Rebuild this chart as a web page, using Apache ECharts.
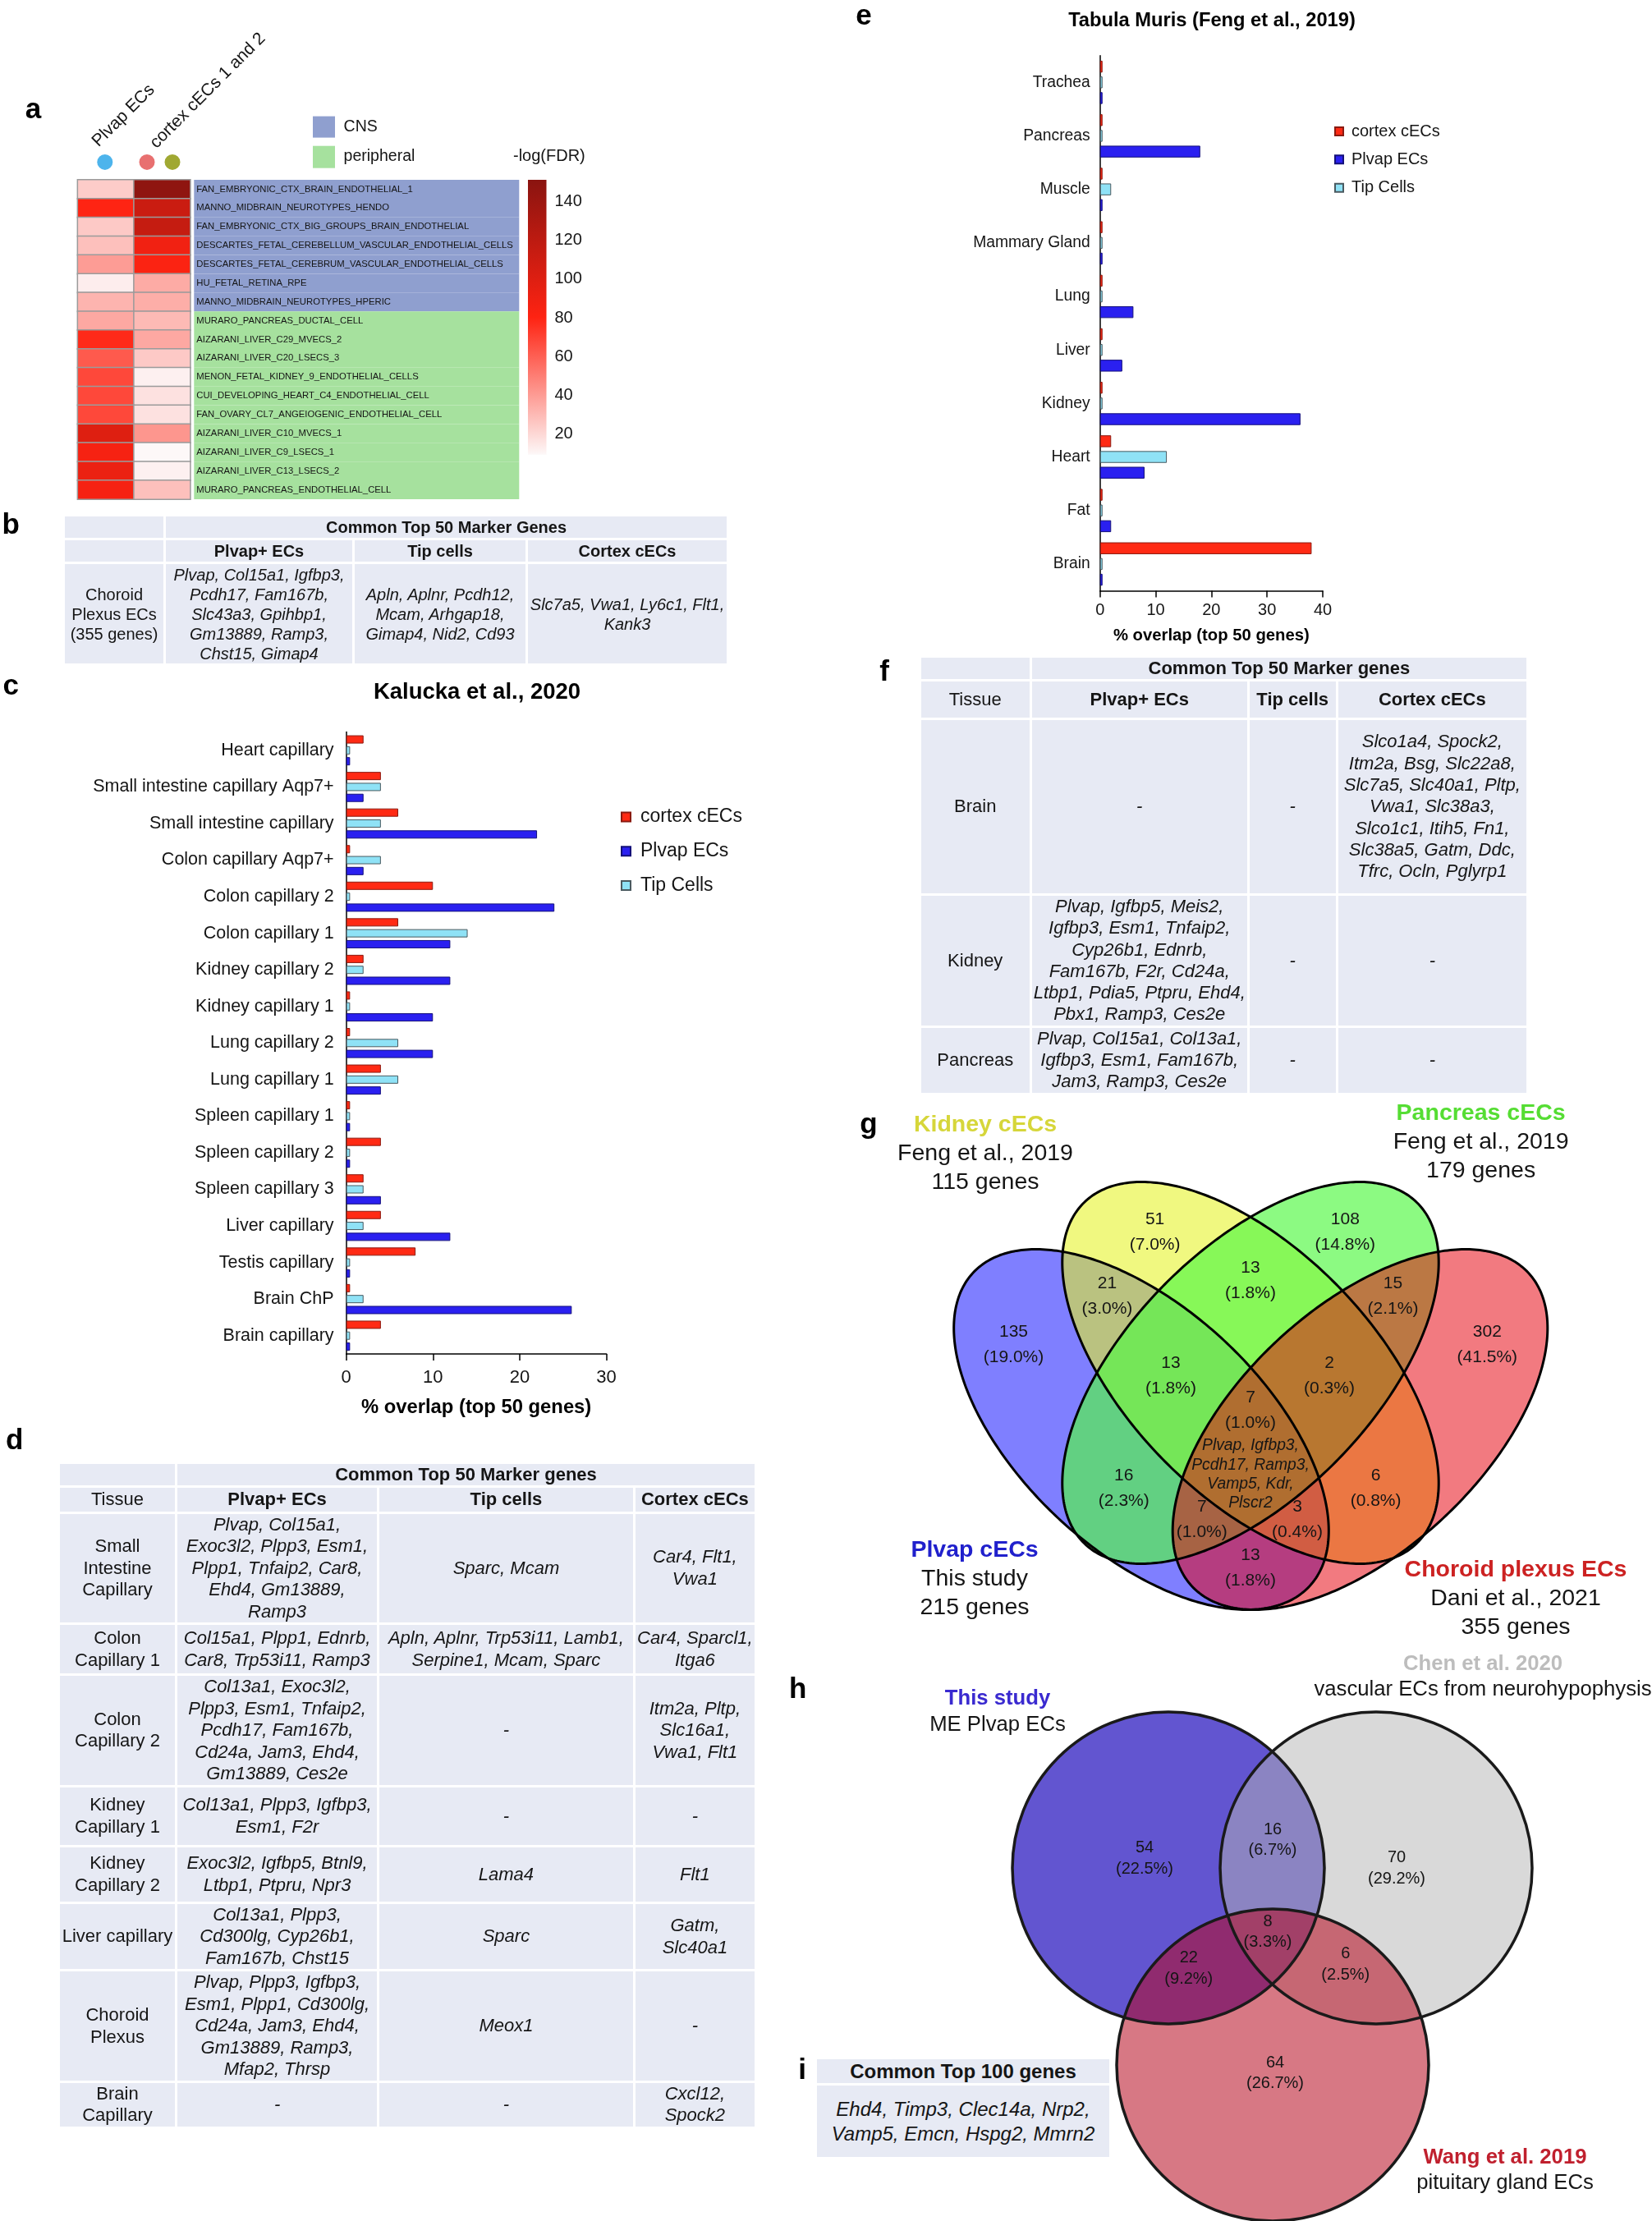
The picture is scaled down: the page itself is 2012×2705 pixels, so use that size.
<!DOCTYPE html>
<html>
<head>
<meta charset="utf-8">
<script src="https://cdn.jsdelivr.net/npm/echarts@6.0.0/dist/echarts.min.js"></script>
<style>
html,body{margin:0;padding:0;background:#fff;}
#chart{position:absolute;left:0;top:0;width:2012px;height:2705px;}
.tbl{position:absolute;border-collapse:collapse;table-layout:fixed;font-family:"Liberation Sans",Arial,Helvetica,sans-serif;color:#151515;z-index:2;}
.tbl td{background:#e7eaf4;border:3px solid #fff;text-align:center;vertical-align:middle;padding:0;white-space:nowrap;overflow:visible;}
.tbl td.b{font-weight:bold;}
.tbl td.it{font-style:italic;}
</style>
</head>
<body>
<div id="chart"></div>
<div id="tables"></div>
<script>
// ================= DATA =================
// Panel a : heatmap
const heatCols = ['Plvap ECs', 'cortex cECs 1 and 2'];
const heatRows = ['FAN_EMBRYONIC_CTX_BRAIN_ENDOTHELIAL_1','MANNO_MIDBRAIN_NEUROTYPES_HENDO','FAN_EMBRYONIC_CTX_BIG_GROUPS_BRAIN_ENDOTHELIAL','DESCARTES_FETAL_CEREBELLUM_VASCULAR_ENDOTHELIAL_CELLS','DESCARTES_FETAL_CEREBRUM_VASCULAR_ENDOTHELIAL_CELLS','HU_FETAL_RETINA_RPE','MANNO_MIDBRAIN_NEUROTYPES_HPERIC','MURARO_PANCREAS_DUCTAL_CELL','AIZARANI_LIVER_C29_MVECS_2','AIZARANI_LIVER_C20_LSECS_3','MENON_FETAL_KIDNEY_9_ENDOTHELIAL_CELLS','CUI_DEVELOPING_HEART_C4_ENDOTHELIAL_CELL','FAN_OVARY_CL7_ANGEIOGENIC_ENDOTHELIAL_CELL','AIZARANI_LIVER_C10_MVECS_1','AIZARANI_LIVER_C9_LSECS_1','AIZARANI_LIVER_C13_LSECS_2','MURARO_PANCREAS_ENDOTHELIAL_CELL'];
const heatGroups = ['CNS','CNS','CNS','CNS','CNS','CNS','CNS','peripheral','peripheral','peripheral','peripheral','peripheral','peripheral','peripheral','peripheral','peripheral','peripheral'];
const heatPlvap  = [24, 80, 25, 28, 40, 13, 32, 36, 78, 62, 68, 68, 68, 100, 85, 92, 85];
const heatCortex = [148, 112, 115, 88, 82, 35, 34, 30, 36, 25, 12, 17, 17, 42, 9.5, 12, 28];
const heatMin = 9.5, heatMax = 151;
const colorbarTicks = [20, 40, 60, 80, 100, 120, 140];

// Panel c : Kalucka et al., 2020
const seriesNames = ['cortex cECs', 'Plvap ECs', 'Tip Cells'];
const kaluckaCats = ['Heart capillary','Small intestine capillary Aqp7+','Small intestine capillary','Colon capillary Aqp7+','Colon capillary 2','Colon capillary 1','Kidney capillary 2','Kidney capillary 1','Lung capillary 2','Lung capillary 1','Spleen capillary 1','Spleen capillary 2','Spleen capillary 3','Liver capillary','Testis capillary','Brain ChP','Brain capillary'];
const kaluckaCortex = [2, 4, 6, 0.45, 10, 6, 2, 0.45, 0.45, 4, 0.45, 4, 2, 4, 8, 0.45, 4];
const kaluckaTip    = [0.45, 4, 4, 4, 0.45, 14, 2, 0.45, 6, 6, 0.45, 0.45, 2, 2, 0.45, 2, 0.45];
const kaluckaPlvap  = [0.45, 2, 22, 2, 24, 12, 12, 10, 10, 4, 0.45, 0.45, 4, 12, 0.45, 26, 0.45];

// Panel e : Tabula Muris
const tabulaCats = ['Trachea','Pancreas','Muscle','Mammary Gland','Lung','Liver','Kidney','Heart','Fat','Brain'];
const tabulaCortex = [0.45, 0.45, 0.45, 0.45, 0.45, 0.45, 0.45, 2, 0.45, 38];
const tabulaTip    = [0.45, 0.45, 2, 0.45, 0.45, 0.45, 0.45, 12, 0.45, 0.45];
const tabulaPlvap  = [0.45, 18, 0.45, 0.45, 6, 4, 36, 8, 2, 0.45];

// Panel g : 4-set Venn
const gSetTitles = ['Plvap cECs', 'Kidney cECs', 'Pancreas cECs', 'Choroid plexus ECs'];
const gSetSources = ['This study', 'Feng et al., 2019', 'Feng et al., 2019', 'Dani et al., 2021'];
const gSetSizes = ['215 genes', '115 genes', '179 genes', '355 genes'];
const gCounts   = [51, 108, 13, 21, 15, 135, 302, 13, 2, 7, 16, 6, 7, 3, 13];
const gPercents = ['7.0%','14.8%','1.8%','3.0%','2.1%','19.0%','41.5%','1.8%','0.3%','1.0%','2.3%','0.8%','1.0%','0.4%','1.8%'];
const gCoreGenes = ['Plvap, Igfbp3,', 'Pcdh17, Ramp3,', 'Vamp5, Kdr,', 'Plscr2'];

// Panel h : 3-set Venn
const hSetTitles = ['This study', 'Chen et al. 2020', 'Wang et al. 2019'];
const hSetSubs = ['ME Plvap ECs', 'vascular ECs from neurohypophysis', 'pituitary gland ECs'];
const hCounts = [54, 16, 70, 8, 22, 6, 64];
const hPercents = ['22.5%','6.7%','29.2%','3.3%','9.2%','2.5%','26.7%'];

// Tables
const bHeader = 'Common Top 50 Marker Genes';
const tblCols = ['Plvap+ ECs', 'Tip cells', 'Cortex cECs'];
const bRowLabel = ['Choroid', 'Plexus ECs', '(355 genes)'];
const bPlvap = ['Plvap, Col15a1, Igfbp3,', 'Pcdh17, Fam167b,', 'Slc43a3, Gpihbp1,', 'Gm13889, Ramp3,', 'Chst15, Gimap4'];
const bTip = ['Apln, Aplnr, Pcdh12,', 'Mcam, Arhgap18,', 'Gimap4, Nid2, Cd93'];
const bCortex = ['Slc7a5, Vwa1, Ly6c1, Flt1,', 'Kank3'];

const dHeader = 'Common Top 50 Marker genes';
const dTissue = [['Small','Intestine','Capillary'], ['Colon','Capillary 1'], ['Colon','Capillary 2'], ['Kidney','Capillary 1'], ['Kidney','Capillary 2'], ['Liver capillary'], ['Choroid','Plexus'], ['Brain','Capillary']];
const dPlvap = [
  ['Plvap, Col15a1,','Exoc3l2, Plpp3, Esm1,','Plpp1, Tnfaip2, Car8,','Ehd4, Gm13889,','Ramp3'],
  ['Col15a1, Plpp1, Ednrb,','Car8, Trp53i11, Ramp3'],
  ['Col13a1, Exoc3l2,','Plpp3, Esm1, Tnfaip2,','Pcdh17, Fam167b,','Cd24a, Jam3, Ehd4,','Gm13889, Ces2e'],
  ['Col13a1, Plpp3, Igfbp3,','Esm1, F2r'],
  ['Exoc3l2, Igfbp5, Btnl9,','Ltbp1, Ptpru, Npr3'],
  ['Col13a1, Plpp3,','Cd300lg, Cyp26b1,','Fam167b, Chst15'],
  ['Plvap, Plpp3, Igfbp3,','Esm1, Plpp1, Cd300lg,','Cd24a, Jam3, Ehd4,','Gm13889, Ramp3,','Mfap2, Thrsp'],
  ['-']];
const dTip = [['Sparc, Mcam'], ['Apln, Aplnr, Trp53i11, Lamb1,','Serpine1, Mcam, Sparc'], ['-'], ['-'], ['Lama4'], ['Sparc'], ['Meox1'], ['-']];
const dCortex = [['Car4, Flt1,','Vwa1'], ['Car4, Sparcl1,','Itga6'], ['Itm2a, Pltp,','Slc16a1,','Vwa1, Flt1'], ['-'], ['Flt1'], ['Gatm,','Slc40a1'], ['-'], ['Cxcl12,','Spock2']];

const fTissue = [['Brain'], ['Kidney'], ['Pancreas']];
const fPlvap = [['-'],
  ['Plvap, Igfbp5, Meis2,','Igfbp3, Esm1, Tnfaip2,','Cyp26b1, Ednrb,','Fam167b, F2r, Cd24a,','Ltbp1, Pdia5, Ptpru, Ehd4,','Pbx1, Ramp3, Ces2e'],
  ['Plvap, Col15a1, Col13a1,','Igfbp3, Esm1, Fam167b,','Jam3, Ramp3, Ces2e']];
const fTip = [['-'], ['-'], ['-']];
const fCortex = [['Slco1a4, Spock2,','Itm2a, Bsg, Slc22a8,','Slc7a5, Slc40a1, Pltp,','Vwa1, Slc38a3,','Slco1c1, Itih5, Fn1,','Slc38a5, Gatm, Ddc,','Tfrc, Ocln, Pglyrp1'], ['-'], ['-']];

const iHeader = 'Common Top 100 genes';
const iGenes = ['Ehd4, Timp3, Clec14a, Nrp2,', 'Vamp5, Emcn, Hspg2, Mmrn2'];

// ================= LAYOUT / STYLE =================
const FONT = '"Liberation Sans", Arial, Helvetica, sans-serif';
const RED = '#ff2a14', BLUE = '#2a20f0', CYAN = '#8fe2f6';
const heatColors = ['#fdf8f8', '#fe2312', '#8a1410'];
const heatColAnchors = [[115.8, 175.5], [186.3, 177.3]];

const gEllipses = [
  {cx: 1390,   cy: 1741, a: 280, b: 148, angle: 43,    fill: 'rgba(0,0,255,0.5)'},
  {cx: 1523,   cy: 1672, a: 290, b: 150, angle: 45.7,  fill: 'rgba(229,243,36,0.58)'},
  {cx: 1523,   cy: 1672, a: 290, b: 150, angle: 134.3, fill: 'rgba(84,248,69,0.67)'},
  {cx: 1656.5, cy: 1741, a: 280, b: 148, angle: 137,   fill: 'rgba(230,0,11,0.52)'}
];
const gLabelPos = [[1406.6,1500.8],[1638.3,1500.8],[1523,1559.5],[1348.4,1579],[1696.5,1579],[1234.5,1637.8],[1811.3,1637.8],[1426,1676],[1619,1676],[1523,1717.7],[1368.8,1812.7],[1675.6,1812.7],[1463.8,1850.5],[1580,1850.5],[1523,1909.5]];
const gTitlePos = [[1187,1887.7,'#2020cc'],[1200,1370,'#d6d63a'],[1803.6,1355.8,'#55dd33'],[1846,1911.7,'#cc2222']];

const hCircles = [
  {cx: 1423, cy: 2275, r: 190, fill: 'rgb(98,85,208)'},
  {cx: 1676, cy: 2275, r: 190, fill: 'rgba(179,179,179,0.5)'},
  {cx: 1550, cy: 2515, r: 190, fill: 'rgba(182,10,31,0.55)'}
];
const hLabelPos = [[1394,2263.7],[1550,2241],[1701,2275.3],[1544,2353],[1447.8,2397.5],[1638.8,2392.3],[1553,2525]];
const hTitlePos = [[1215,2069,'#3a2ad0'],[1806,2026.7,'#bdbdbd'],[1833,2627.6,'#c0202e']];

// ================= BUILD =================
const graphics = [];
function txt(x, y, text, o) {
  o = o || {};
  const al = o.align || 'center', va = o.valign || 'middle';
  const st = {text: text, fill: o.color || '#151515', fontSize: o.size || 21, fontWeight: o.weight || 'normal',
    fontStyle: o.style || 'normal', fontFamily: FONT, align: al, verticalAlign: va, textAlign: al, textVerticalAlign: va};
  if (o.lh) st.lineHeight = o.lh;
  graphics.push({type: 'text', x: x, y: y, rotation: o.rot || 0, silent: true, z: 20, style: st});
}
function ellipsePts(e) {
  const pts = [], r = e.angle * Math.PI / 180, c = Math.cos(r), s = Math.sin(r);
  for (let k = 0; k < 360; k++) {
    const t = 2 * Math.PI * k / 360, u = e.a * Math.cos(t), v = e.b * Math.sin(t);
    pts.push([e.cx + u * c - v * s, e.cy + u * s + v * c]);
  }
  return pts;
}

// panel letters
[['a',40.6,134],['b',13.3,640],['c',13.3,836.7],['d',17.7,1755.4],['e',1052,20],['f',1077,819.4],['g',1058,1370],['h',971.8,2058],['i',977,2522]]
  .forEach(p => txt(p[1], p[2], p[0], {size: 35, weight: 'bold', color: '#000'}));

// panel a decorations
heatCols.forEach((c, i) => txt(heatColAnchors[i][0], heatColAnchors[i][1], c, {align: 'left', size: 21, rot: Math.PI / 4}));
graphics.push({type:'circle', shape:{cx:127.8, cy:197.4, r:9.5}, style:{fill:'#4db4ec'}, silent:true});
graphics.push({type:'circle', shape:{cx:179, cy:197.4, r:9.5}, style:{fill:'#e87070'}, silent:true});
graphics.push({type:'circle', shape:{cx:210, cy:197.4, r:9.5}, style:{fill:'#a0a832'}, silent:true});
graphics.push({type:'rect', shape:{x:381, y:141.6, width:27, height:26}, style:{fill:'#8f9fcf'}, silent:true});
graphics.push({type:'rect', shape:{x:381, y:177.7, width:27, height:27}, style:{fill:'#a6e19e'}, silent:true});
txt(418.6, 154.6, 'CNS', {align:'left', size:19.5});
txt(418.6, 190.7, 'peripheral', {align:'left', size:19.5});
txt(625, 190.7, '-log(FDR)', {align:'left', size:20});
graphics.push({type:'rect', shape:{x:643, y:219, width:22.5, height:334.8}, silent:true,
  style:{fill:{type:'linear', x:0, y:0, x2:0, y2:1, colorStops:[{offset:0,color:heatColors[2]},{offset:0.5,color:heatColors[1]},{offset:1,color:heatColors[0]}]}}});

// titles of bar charts
txt(581, 843, 'Kalucka et al., 2020', {size: 27.5, weight: 'bold', color: '#000'});
txt(1476, 25.6, 'Tabula Muris (Feng et al., 2019)', {size: 23.7, weight: 'bold', color: '#000'});

// Venn g
gEllipses.forEach(e => graphics.push({type:'polygon', shape:{points: ellipsePts(e)}, style:{fill: e.fill}, silent:true, z: 5}));
gEllipses.forEach(e => graphics.push({type:'polygon', shape:{points: ellipsePts(e)}, style:{fill: 'none', stroke:'#000', lineWidth: 3}, silent:true, z: 6}));
gCounts.forEach((c, i) => txt(gLabelPos[i][0], gLabelPos[i][1], c + '\n(' + gPercents[i] + ')', {size: 21, lh: 31}));
gCoreGenes.forEach((g, i) => txt(1523, 1761 + i * 23.3, g, {size: 19.3, style: 'italic'}));
gSetTitles.forEach((t, i) => {
  const p = gTitlePos[i];
  txt(p[0], p[1], t, {size: 28.5, weight: 'bold', color: p[2]});
  txt(p[0], p[1] + 35, gSetSources[i], {size: 28.5});
  txt(p[0], p[1] + 70, gSetSizes[i], {size: 28.5});
});

// Venn h
hCircles.forEach(c => graphics.push({type:'circle', shape:{cx:c.cx, cy:c.cy, r:c.r}, style:{fill:c.fill}, silent:true, z: 5}));
hCircles.forEach(c => graphics.push({type:'circle', shape:{cx:c.cx, cy:c.cy, r:c.r}, style:{fill:'none', stroke:'#1a1a1a', lineWidth: 3.5}, silent:true, z: 6}));
hCounts.forEach((c, i) => txt(hLabelPos[i][0], hLabelPos[i][1], c + '\n(' + hPercents[i] + ')', {size: 20, lh: 25.5}));
hSetTitles.forEach((t, i) => {
  const p = hTitlePos[i];
  txt(p[0], p[1], t, {size: 25.7, weight: 'bold', color: p[2]});
  txt(p[0], p[1] + 31.5, hSetSubs[i], {size: 25.7});
});

// heatmap data
const heatData = [];
heatRows.forEach((r, i) => { heatData.push([0, i, heatPlvap[i]]); heatData.push([1, i, heatCortex[i]]); });

function barSeries(name, data, xi, color, border, bw) {
  return {type:'bar', name: name, xAxisIndex: xi, yAxisIndex: xi, data: data, barWidth: bw, barGap: '33%',
    itemStyle: {color: color, borderColor: border, borderWidth: 1}, emphasis: {disabled: true}};
}
function catAxis(grid, cats, size, margin, tickLen) {
  return {type:'category', gridIndex: grid, data: cats, inverse: true,
    axisLine: {lineStyle: {color: '#000', width: 1.5}}, axisTick: {alignWithLabel: true, length: tickLen, lineStyle: {color: '#000', width: 1.5}},
    axisLabel: {fontSize: size, color: '#151515', margin: margin, interval: 0, fontFamily: FONT}};
}
function valAxis(grid, max, size, margin, nameSize, nameGap) {
  return {type:'value', gridIndex: grid, min: 0, max: max, interval: 10,
    axisLine: {show: true, lineStyle: {color: '#000', width: 1.5}}, axisTick: {show: true, length: 8, lineStyle: {color: '#000', width: 1.5}},
    splitLine: {show: false}, axisLabel: {fontSize: size, color: '#151515', margin: margin, fontFamily: FONT},
    name: '% overlap (top 50 genes)', nameLocation: 'middle', nameGap: nameGap,
    nameTextStyle: {fontSize: nameSize, fontWeight: 'bold', color: '#000', fontFamily: FONT}};
}

const option = {
  animation: false,
  backgroundColor: '#fff',
  textStyle: {fontFamily: FONT},
  grid: [
    {left: 94.6, top: 219, width: 137.1, height: 389, outerBoundsMode: 'none'},
    {left: 236.3, top: 219, width: 396, height: 389, outerBoundsMode: 'none'},
    {left: 643, top: 197.7, width: 22.5, height: 378.6, outerBoundsMode: 'none'},
    {left: 421.6, top: 891.6, width: 317, height: 757.4, outerBoundsMode: 'none'},
    {left: 1339.7, top: 67.7, width: 271.3, height: 651.8, outerBoundsMode: 'none'}
  ],
  xAxis: [
    {type:'category', gridIndex:0, data: heatCols, position:'top', axisLine:{show:false}, axisTick:{show:false}, axisLabel:{show:false}},
    {type:'value', gridIndex:1, min:0, max:1, show:false},
    {type:'value', gridIndex:2, min:0, max:1, show:false},
    valAxis(3, 30, 22, 18, 23.8, 53),
    valAxis(4, 40, 20, 14, 20.3, 44.5)
  ],
  yAxis: [
    {type:'category', gridIndex:0, data: heatRows, inverse:true, show:false},
    {type:'category', gridIndex:1, data: heatRows, inverse:true, z: 10, axisLine:{show:false}, axisTick:{show:false},
      axisLabel:{inside:true, margin:3, fontSize:11.3, color:'#151515', interval:0, fontFamily: FONT}},
    {type:'value', gridIndex:2, min:0, max:160, interval:20, position:'right', axisLine:{show:false}, axisTick:{show:false}, splitLine:{show:false},
      axisLabel:{fontSize:20, margin:10, color:'#151515', fontFamily: FONT, formatter: v => colorbarTicks.indexOf(v) >= 0 ? String(v) : ''}},
    catAxis(3, kaluckaCats, 21.5, 15, 12),
    catAxis(4, tabulaCats, 19.3, 12, 9)
  ],
  visualMap: [{type:'continuous', show:false, seriesIndex:0, dimension:2, min: heatMin, max: heatMax, inRange:{color: heatColors}}],
  legend: [
    {data: seriesNames, orient:'vertical', left:756, top:983, padding:0, itemWidth:11, itemHeight:11, itemGap:17.75, icon:'rect',
      textStyle:{fontSize:23, lineHeight:24, color:'#151515', padding:[0,0,0,7], fontFamily: FONT}, selectedMode:false},
    {data: seriesNames, orient:'vertical', left:1625, top:149, padding:0, itemWidth:10, itemHeight:10, itemGap:12.35, icon:'rect',
      textStyle:{fontSize:20, lineHeight:22, color:'#151515', padding:[0,0,0,5], fontFamily: FONT}, selectedMode:false}
  ],
  series: [
    {type:'heatmap', xAxisIndex:0, yAxisIndex:0, data: heatData, itemStyle:{borderColor:'#9b9b9b', borderWidth:1.5}, emphasis:{disabled:true}},
    {type:'bar', xAxisIndex:1, yAxisIndex:1, barWidth:'100%', silent:true, z: 1,
      data: heatGroups.map(g => ({value: 1, itemStyle: {color: g === 'CNS' ? '#8f9fcf' : '#a6e19e'}}))},
    barSeries(seriesNames[0], kaluckaCortex, 3, RED, '#8a1a10', 10),
    barSeries(seriesNames[2], kaluckaTip, 3, CYAN, '#4a5a60', 10),
    barSeries(seriesNames[1], kaluckaPlvap, 3, BLUE, '#14107a', 10),
    barSeries(seriesNames[0], tabulaCortex, 4, RED, '#8a1a10', 14.4),
    barSeries(seriesNames[2], tabulaTip, 4, CYAN, '#4a5a60', 14.4),
    barSeries(seriesNames[1], tabulaPlvap, 4, BLUE, '#14107a', 14.4)
  ],
  graphic: {elements: graphics}
};

const chart = echarts.init(document.getElementById('chart'), null, {renderer: 'canvas', width: 2012, height: 2705});
chart.setOption(option);

// ================= TABLES (HTML) =================
function cell(lines, cls, span) {
  return '<td' + (cls ? ' class="' + cls + '"' : '') + (span ? ' colspan="' + span + '"' : '') + '>' + (lines || []).join('<br>') + '</td>';
}
function table(left, top, colW, rowH, fontSize, lineH, rows) {
  let h = '<table class="tbl" style="left:' + left + 'px;top:' + top + 'px;width:' + colW.reduce((a, b) => a + b, 0) + 'px;font-size:' + fontSize + 'px;line-height:' + lineH + 'px;"><colgroup>';
  colW.forEach(w => h += '<col style="width:' + w + 'px">');
  h += '</colgroup>';
  rows.forEach((r, i) => { h += '<tr style="height:' + rowH[i] + 'px">' + r.join('') + '</tr>'; });
  return h + '</table>';
}
let html = '';
// b
html += table(76, 626, [123, 230, 211, 245], [29, 29, 124], 20, 24, [
  [cell([]), cell([bHeader], 'b', 3)],
  [cell([]), cell([tblCols[0]], 'b'), cell([tblCols[1]], 'b'), cell([tblCols[2]], 'b')],
  [cell(bRowLabel), cell(bPlvap, 'it'), cell(bTip, 'it'), cell(bCortex, 'it')]
]);
// d
const dRowsH = [133.7, 62.1, 133.6, 73.3, 68.8, 80.7, 132.5, 53.6];
const dRows = [[cell([]), cell([dHeader], 'b', 3)], [cell(['Tissue']), cell([tblCols[0]], 'b'), cell([tblCols[1]], 'b'), cell([tblCols[2]], 'b')]];
dTissue.forEach((t, i) => dRows.push([cell(t), cell(dPlvap[i], 'it'), cell(dTip[i], 'it'), cell(dCortex[i], 'it')]));
html += table(69.6, 1779.6, [143.8, 245.3, 312.5, 147.4], [29.4, 31.5].concat(dRowsH), 22, 26.5, dRows);
// f
const fRows = [[cell([]), cell([dHeader], 'b', 3)], [cell(['Tissue']), cell([tblCols[0]], 'b'), cell([tblCols[1]], 'b'), cell([tblCols[2]], 'b')]];
fTissue.forEach((t, i) => fRows.push([cell(t), cell(fPlvap[i], 'it'), cell(fTip[i], 'it'), cell(fCortex[i], 'it')]));
html += table(1118.7, 797.6, [135.1, 264.9, 108, 232.3], [29.4, 47, 214, 159.5, 79.5], 22, 26.3, fRows);
// i
html += table(992, 2504.7, [359], [30, 90], 24, 29.8, [[cell([iHeader], 'b')], [cell(iGenes, 'it')]]);
document.getElementById('tables').innerHTML = html;
</script>
</body>
</html>
